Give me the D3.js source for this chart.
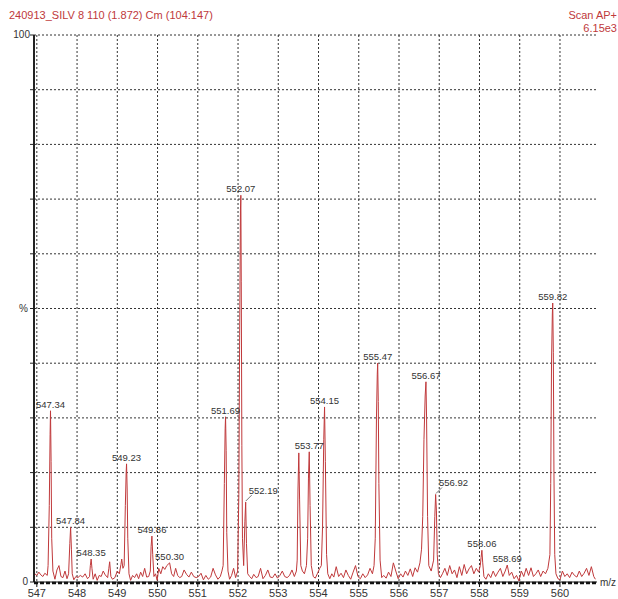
<!DOCTYPE html>
<html><head><meta charset="utf-8">
<script src="https://cdn.jsdelivr.net/npm/d3@7"></script>
<style>
html,body{margin:0;padding:0;background:#fff;}
svg{display:block;font-family:"Liberation Sans",Arial,sans-serif;}
</style></head>
<body>
<svg id="chart" width="618" height="599"></svg>
<script>
// ---- data ----
const titleText = "240913_SILV 8 110 (1.872) Cm (104:147)";
const scanText = ["Scan AP+", "6.15e3"];
const xTicks = [547,548,549,550,551,552,553,554,555,556,557,558,559,560];
const yGrid = [10,20,30,40,50,60,70,80,90,100];

// profile spectrum: m/z values and relative intensity (%)
const profileMz = [
546.95,547.00,547.05,547.10,547.15,547.20,547.26,
547.28,547.31,547.33,547.34,547.355,547.37,547.40,
547.45,547.50,547.55,547.60,547.65,547.70,547.75,
547.79,547.82,547.84,547.86,547.88,
547.92,547.97,548.02,548.08,548.14,548.20,548.26,548.31,
548.33,548.35,548.37,548.40,
548.45,548.50,548.55,548.60,548.65,548.70,548.76,
548.79,548.81,548.84,
548.88,548.94,549.00,549.05,
549.09,549.11,549.14,
549.17,549.20,549.22,549.23,549.245,549.26,549.29,
549.33,549.38,549.43,549.48,549.53,549.58,549.63,549.68,549.73,549.78,
549.82,549.84,549.86,549.88,549.91,
549.95,549.99,550.03,550.08,550.13,550.18,550.23,550.30,550.35,550.40,550.45,550.50,550.55,550.60,550.66,550.72,550.78,550.84,550.90,550.96,551.02,551.08,551.14,551.20,551.26,551.32,551.38,551.44,551.50,551.56,551.60,
551.63,551.66,551.68,551.69,551.705,551.72,551.75,
551.79,551.84,551.89,551.94,
551.99,552.02,552.04,552.06,552.07,552.08,552.095,552.11,
552.14,552.17,552.19,552.21,552.24,
552.29,552.34,552.39,552.45,552.50,552.56,552.62,552.68,552.74,552.80,552.86,552.92,552.98,553.04,553.10,553.16,553.22,553.28,553.34,553.40,553.45,
553.47,553.49,553.51,553.53,553.56,
553.60,553.65,553.70,
553.73,553.75,553.77,553.79,553.82,
553.87,553.92,553.97,554.03,554.07,
554.10,554.13,554.15,554.17,554.20,554.23,
554.28,554.33,554.38,554.44,554.50,554.56,554.62,554.68,554.74,554.80,554.86,554.92,554.98,555.04,555.10,555.16,555.22,555.28,555.34,555.38,
555.41,555.44,555.46,555.47,555.485,555.50,555.53,
555.57,555.62,555.68,555.74,555.80,555.86,555.92,555.98,556.04,556.10,556.16,556.22,556.28,556.34,556.40,556.46,556.52,556.56,
556.59,556.62,556.65,556.67,556.685,556.71,556.74,
556.80,556.86,556.89,556.91,556.93,556.95,556.98,
557.03,557.08,557.14,557.20,557.26,557.32,557.38,557.44,557.50,557.56,557.62,557.68,557.74,557.80,557.86,557.92,557.98,558.02,
558.04,558.06,558.08,558.11,
558.16,558.22,558.28,558.34,558.40,558.46,558.52,558.58,558.64,558.69,558.74,558.80,558.86,558.92,558.98,559.04,559.10,559.16,559.22,559.28,559.34,559.40,559.46,559.52,559.58,559.64,559.70,559.75,
559.77,559.79,559.81,559.82,559.835,559.85,559.87,559.90,
559.95,560.00,560.06,560.12,560.18,560.24,560.30,560.36,560.42,560.48,560.54,560.60,560.66,560.72,560.78,560.84,560.88
];
const profileInt = [
1.5,1.2,1.8,1.3,1.0,1.6,1.2,
3,14,27,31.3,22,8,2,
0.5,2.2,3.0,1.0,0.8,2.0,0.6,
1.5,7,10,6,1.5,
0.4,1.0,0.8,1.2,0.9,1.5,0.6,1.0,
3,4.2,2.5,0.5,
1.5,0.3,1.2,1.0,2.0,1.3,0.8,
2.5,3.7,1.0,
0.5,0.8,2.0,1.5,
3.2,4.2,2.5,
3,14,20,21.6,17,8,1.5,
0.3,1.2,0.8,1.5,0.6,1.8,1.0,2.5,0.9,1.0,
2,6.5,8.4,5,1.0,
1.5,0.3,2.5,1.5,2.8,2.3,3.0,3.5,1.5,1.0,2.5,1.2,0.8,1.0,2.2,1.4,0.9,1.8,1.0,0.8,1.0,1.6,0.4,1.2,0.5,0.9,2.5,1.3,0.5,1.0,2.0,
3,18,28,30.2,24,9,2,
0.5,1.2,2.5,0.8,
2,16,45,68,70.7,55,25,8,
3,11,14.6,7,1.5,
1.0,0.6,1.4,0.8,1.0,2.5,0.6,1.2,2.2,0.9,0.8,1.5,0.7,1.2,2.0,1.0,0.8,1.2,2.2,1.0,2.0,
4,17,23.6,15,3,
2,1.5,3,
8,19,23.8,14,3,
1.0,0.7,1.5,2.5,3,
10,26,32,22,5,1.5,
0.6,1.5,0.9,2.8,1.0,1.6,0.8,2.2,1.2,0.5,1.8,3.0,1.0,0.6,1.5,0.8,1.3,2.5,1.5,3,
8,30,38,40,33,18,4,
0.8,1.2,0.7,1.8,1.0,3.5,2.0,0.6,1.5,0.9,2.0,1.2,2.4,1.0,2.6,1.8,3.5,6,
12,26,34,36.6,30,12,3,
2,4,12,16,13,5,1.5,
0.8,1.5,2.5,1.2,3.0,1.5,2.2,0.8,2.8,1.2,3.2,1.5,2.4,3.0,1.5,2.5,1.8,3,
4.5,5.8,3.5,1.0,
0.5,1.5,0.8,2.0,1.0,1.8,2.5,1.0,2.0,3.1,1.2,1.8,0.6,1.2,0.2,2.0,1.0,2.5,1.2,2.6,1.0,1.5,2.2,1.0,2.0,1.5,2.5,5,
18,40,49,51,42,20,5,1.5,
0.6,0.4,2.0,1.0,1.5,0.8,1.8,1.2,0.9,2.0,1.0,1.6,2.5,1.2,2.8,1.0,0.5
];

// labelled peaks
const peakLabels = ["547.34","547.84","548.35","549.23","549.86","550.30","551.69","552.07","552.19","553.77","554.15","555.47","556.67","556.92","558.06","558.69","559.82"];
const peakMz     = [547.34,547.84,548.35,549.23,549.86,550.30,551.69,552.07,552.19,553.77,554.15,555.47,556.67,556.92,558.06,558.69,559.82];
const peakInt    = [31.3,10,4.2,21.6,8.4,3.5,30.2,70.7,14.6,23.8,32,40,36.6,16,5.8,3.1,51];
const peakLeader = [0,0,0,0,0,0,0,0,1,0,0,0,0,1,0,0,0];

// ---- drawing ----
const svg = d3.select("#chart");
const x = d3.scaleLinear().domain([546.93, 560.92]).range([34, 597]);
const y = d3.scaleLinear().domain([0, 100]).range([582, 35]);
const red = "#c0393b";
const gridCol = "#333";

// grid
svg.append("g").selectAll("line.v").data(xTicks).join("line")
  .attr("x1", d => x(d)).attr("x2", d => x(d))
  .attr("y1", y(100)).attr("y2", y(0))
  .attr("stroke", gridCol).attr("stroke-width", 1).attr("stroke-dasharray", "2,2");
svg.append("g").selectAll("line.h").data(yGrid).join("line")
  .attr("x1", x.range()[0]).attr("x2", x.range()[1])
  .attr("y1", d => y(d)).attr("y2", d => y(d))
  .attr("stroke", gridCol).attr("stroke-width", 1).attr("stroke-dasharray", "2,2");

// spectrum line
const pts = profileMz.map((m, i) => [m, profileInt[i]]);
svg.append("path").datum(pts)
  .attr("fill", "none").attr("stroke", red).attr("stroke-width", 1)
  .attr("stroke-linejoin", "round")
  .attr("d", d3.line().x(d => x(d[0])).y(d => y(d[1])));

// y axis
svg.append("line").attr("x1", 34).attr("x2", 34).attr("y1", y(100)).attr("y2", y(0))
  .attr("stroke", "#222").attr("stroke-width", 2);
svg.append("g").selectAll("line").data([0].concat(yGrid)).join("line")
  .attr("x1", 30).attr("x2", 34).attr("y1", d => y(d)).attr("y2", d => y(d))
  .attr("stroke", "#222").attr("stroke-width", 1);
svg.append("text").attr("x", 30).attr("y", y(100) + 3).attr("text-anchor", "end")
  .attr("font-size", 10).attr("fill", "#333").text("100");
svg.append("text").attr("x", 28).attr("y", y(0) + 3).attr("text-anchor", "end")
  .attr("font-size", 10).attr("fill", "#333").text("0");
svg.append("text").attr("x", 28).attr("y", y(50) + 3).attr("text-anchor", "end")
  .attr("font-size", 10).attr("fill", "#333").text("%");

// x axis
svg.append("line").attr("x1", 34).attr("x2", 597).attr("y1", y(0)).attr("y2", y(0))
  .attr("stroke", "#111").attr("stroke-width", 1);
svg.append("line").attr("x1", 34).attr("x2", 597).attr("y1", y(0) + 1).attr("y2", y(0) + 1)
  .attr("stroke", "#111").attr("stroke-width", 2.5).attr("stroke-dasharray", "4,2");
svg.append("g").selectAll("line").data(xTicks).join("line")
  .attr("x1", d => x(d)).attr("x2", d => x(d)).attr("y1", y(0)).attr("y2", y(0) + 5)
  .attr("stroke", "#111").attr("stroke-width", 1);
svg.append("g").selectAll("text").data(xTicks).join("text")
  .attr("x", d => x(d)).attr("y", 597).attr("text-anchor", "middle")
  .attr("font-size", 11).attr("fill", "#333").text(d => d);
svg.append("text").attr("x", 600).attr("y", 586).attr("font-size", 10).attr("fill", "#333").text("m/z");

// peak labels
const lab = svg.append("g");
peakMz.forEach((m, i) => {
  const px = x(m), py = y(peakInt[i]);
  if (peakLeader[i]) {
    lab.append("line").attr("x1", px).attr("y1", py - 1).attr("x2", px + 6).attr("y2", py - 7)
      .attr("stroke", "#555").attr("stroke-width", 0.8);
    lab.append("text").attr("x", px + 3).attr("y", py - 8).attr("text-anchor", "start")
      .attr("font-size", 9.5).attr("fill", "#333").text(peakLabels[i]);
  } else {
    lab.append("text").attr("x", px).attr("y", py - 3).attr("text-anchor", "middle")
      .attr("font-size", 9.5).attr("fill", "#333").text(peakLabels[i]);
  }
});

// header texts
svg.append("text").attr("x", 9).attr("y", 19).attr("font-size", 11).attr("fill", red).text(titleText);
svg.append("text").attr("x", 617).attr("y", 19).attr("text-anchor", "end").attr("font-size", 11).attr("fill", red).text(scanText[0]);
svg.append("text").attr("x", 617).attr("y", 32).attr("text-anchor", "end").attr("font-size", 11).attr("fill", red).text(scanText[1]);
</script>
</body></html>
